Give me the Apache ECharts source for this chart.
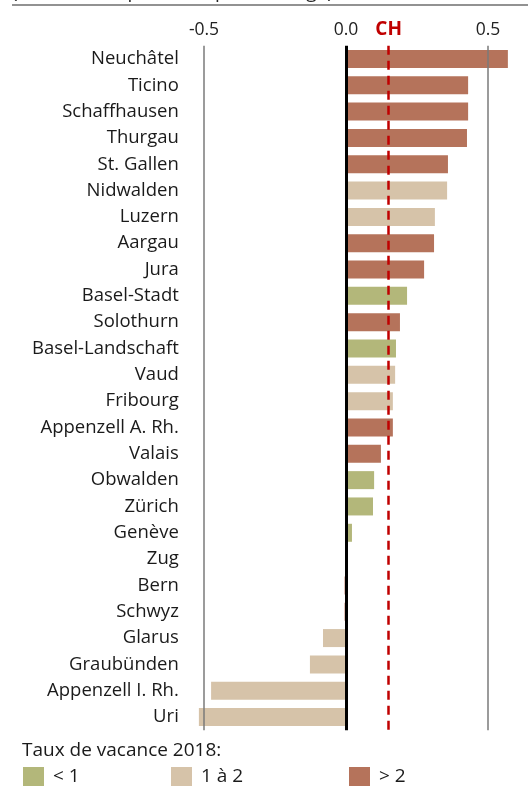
<!DOCTYPE html>
<html>
<head>
<meta charset="utf-8">
<script src="https://cdn.jsdelivr.net/npm/echarts@6/dist/echarts.min.js"></script>
<style>
html,body{margin:0;padding:0;background:#fff;}
#c{width:528px;height:787px;}
</style>
</head>
<body>
<div id="c"></div>
<script>
// ---- data ----
const cantons = ["Neuchâtel","Ticino","Schaffhausen","Thurgau","St. Gallen","Nidwalden","Luzern","Aargau","Jura","Basel-Stadt","Solothurn","Basel-Landschaft","Vaud","Fribourg","Appenzell A. Rh.","Valais","Obwalden","Zürich","Genève","Zug","Bern","Schwyz","Glarus","Graubünden","Appenzell I. Rh.","Uri"];
const values = [0.570,0.430,0.430,0.426,0.359,0.356,0.313,0.310,0.275,0.215,0.190,0.176,0.173,0.165,0.165,0.123,0.099,0.095,0.021,0.007,-0.005,-0.005,-0.081,-0.127,-0.475,-0.518];
// vacancy-rate group: 0 = "< 1", 1 = "1 à 2", 2 = "> 2"
const groups = [2,2,2,2,2,1,1,2,2,0,2,0,1,1,2,2,0,0,0,2,2,2,1,1,1,1];
const groupNames = ["< 1","1 à 2","> 2"];
const tickValues = [-0.5, 0.0, 0.5];
const chValue = 0.154;
const legendTitle = "Taux de vacance 2018:";
const headerText = "(variation en points de pourcentage)";

const colors = ["#b3b77a","#d6c3a9","#b5735b"];
const FONT = "'Open Sans', 'Noto Sans', sans-serif";

const chart = echarts.init(document.getElementById('c'), null, {renderer:'canvas'});

const series = groupNames.map((name, g) => ({
  name: name,
  type: 'bar',
  barWidth: 18,
  barGap: '-100%',
  itemStyle: {color: colors[g]},
  data: values.map((v, i) => groups[i] === g ? v : '-'),
  z: 2
}));

series.push({
  name: 'lines',
  type: 'line',
  data: [],
  silent: true,
  z: 5,
  markLine: {
    silent: true,
    symbol: 'none',
    animation: false,
    data: tickValues.map(v => ({
      xAxis: v,
      lineStyle: v === 0 ? {color:'#000', width:3, type:'solid'} : {color:'#7a7a7a', width:1.5, type:'solid'},
      label: {show:false}
    })).concat([{
      xAxis: chValue,
      lineStyle: {color:'#c00000', width:2.5, type:[9,6]},
      label: {show:true, position:'start', formatter:'CH', color:'#c00000', fontWeight:'bold', fontSize:19, fontFamily:FONT, distance:7}
    }])
  }
});

chart.setOption({
  animation: false,
  textStyle: {fontFamily: FONT},
  grid: {left: 189.8, right: 11.6, top: 45.8, bottom: 56.8, containLabel: false},
  xAxis: {
    type: 'value',
    min: -0.55,
    max: 0.6,
    position: 'top',
    axisLine: {show:false},
    axisTick: {show:false},
    splitLine: {show:false},
    axisLabel: {
      customValues: tickValues,
      formatter: v => v.toFixed(1),
      fontSize: 17.5,
      color: '#222',
      margin: 7,
      fontFamily: FONT
    }
  },
  yAxis: {
    type: 'category',
    inverse: true,
    data: cantons,
    axisLine: {show:false},
    axisTick: {show:false},
    axisLabel: {fontSize: 18.5, color: '#1a1a1a', margin: 11, fontFamily: FONT}
  },
  title: {
    text: legendTitle,
    left: 17,
    top: 736,
    textStyle: {fontSize: 19, fontWeight: 'normal', color: '#1a1a1a', fontFamily: FONT}
  },
  legend: groupNames.map((n, g) => ({
    data: [n],
    left: [23, 171, 349][g],
    top: 767,
    itemWidth: 21,
    itemHeight: 19,
    icon: 'rect',
    itemGap: 0,
    padding: 0,
    textStyle: {fontSize: 19, color: '#1a1a1a', fontFamily: FONT, padding:[0,0,0,4]}
  })),
  graphic: [
    {type:'line', shape:{x1:12, y1:5, x2:528, y2:5}, style:{stroke:'#6e6e6e', lineWidth:1.5}},
    {type:'text', left: 12, top: -17, style:{text: headerText, font: "19px 'Open Sans', sans-serif", fill:'#222'}}
  ],
  series: series
});
</script>
</body>
</html>
